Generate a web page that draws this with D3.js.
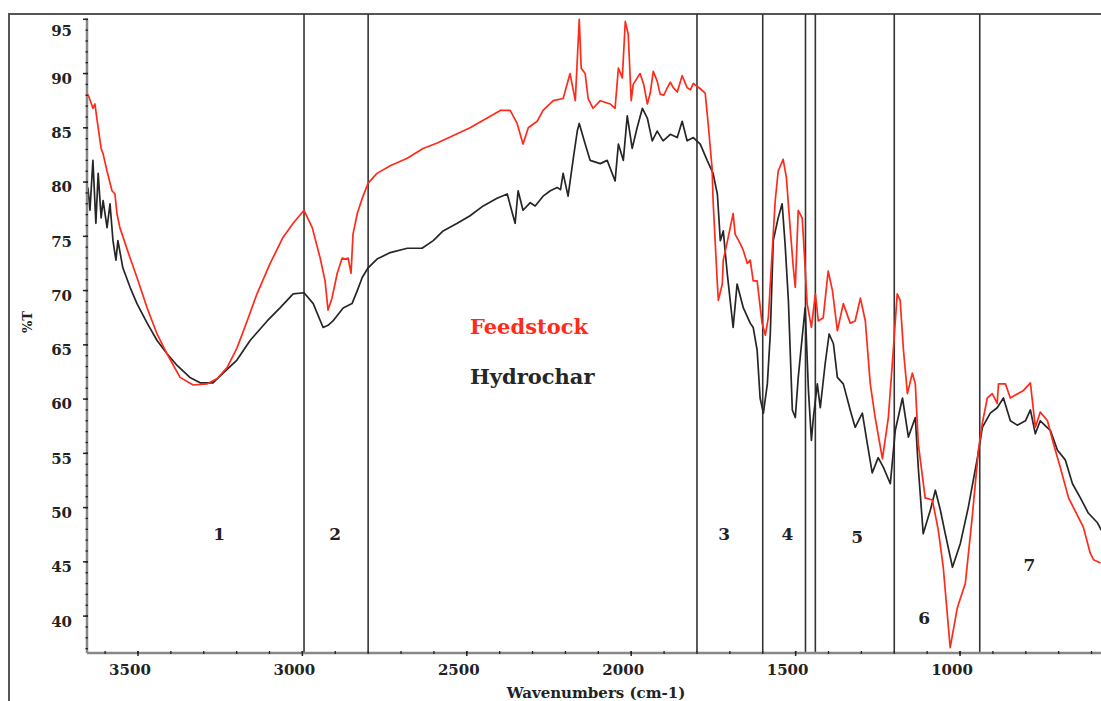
<!DOCTYPE html>
<html>
<head>
<meta charset="utf-8">
<script src="https://cdn.jsdelivr.net/npm/d3@7"></script>
<style>
  body { margin: 0; background: #fff; }
  svg { display: block; }
  text { font-family: "DejaVu Serif", serif; font-weight: bold; fill: #222; }
</style>
</head>
<body>
<div id="chart"><svg></svg></div>
<script>
// wavenumber (cm-1) / %T
const feedWave = [3652, 3637, 3631, 3621, 3612, 3606, 3594, 3579, 3570, 3564, 3555, 3524, 3503, 3472, 3442, 3412, 3372, 3332, 3290, 3259, 3229, 3199, 3168, 3138, 3098, 3059, 3028, 2995,
  2970, 2946, 2931, 2922, 2910, 2894, 2879, 2870, 2861, 2852, 2846, 2833, 2818, 2800, 2773, 2733, 2681, 2633, 2590, 2490, 2398, 2368, 2347, 2329, 2313, 2286, 2268, 2237, 2207,
  2186, 2170, 2158, 2152, 2140, 2131, 2116, 2094, 2064, 2049, 2039, 2027, 2018, 2009, 2000, 1994, 1973, 1962, 1951, 1942, 1933, 1921, 1912, 1901, 1890, 1881, 1872, 1860, 1845, 1830, 1820, 1811, 1790, 1775, 1766, 1754,
  1751, 1738, 1735, 1723, 1720, 1705, 1690, 1684, 1668, 1659, 1647, 1638, 1629, 1617, 1602, 1592, 1583, 1571, 1562, 1553, 1538, 1528, 1519, 1507, 1501, 1492, 1480, 1474, 1465,
  1452, 1440, 1431, 1416, 1401, 1388, 1373, 1355, 1334, 1319, 1303, 1288, 1273, 1258, 1236, 1218, 1203, 1191, 1182, 1172, 1160, 1145, 1136, 1127, 1106, 1084, 1066, 1051, 1030,
  1008, 984, 963, 944, 932, 917, 902, 887, 883, 862, 847, 807, 786, 771, 756, 734, 716, 695, 670, 655, 625, 604, 594, 573]
const feedT = [88.1, 86.8, 87.2, 85.0, 83.1, 82.6, 81.0, 79.2, 78.9, 77.1, 75.8, 73.0, 71.2, 68.4, 66.0, 64.2, 62.0, 61.3, 61.4, 61.9, 62.9, 64.7, 67.2, 69.7, 72.5, 74.9, 76.2, 77.4,
  75.8, 73.0, 70.9, 68.2, 69.3, 71.6, 73.0, 72.9, 73.0, 71.6, 75.2, 77.1, 78.5, 79.9, 80.8, 81.5, 82.2, 83.1, 83.6, 85.0, 86.6, 86.6, 85.4, 83.5, 85.0, 85.6, 86.6, 87.5, 87.7,
  90.0, 87.5, 95.0, 90.5, 90.0, 87.7, 86.8, 87.5, 87.2, 86.8, 90.5, 89.6, 94.8, 93.6, 87.5, 89.0, 90.0, 89.0, 87.2, 88.2, 90.2, 89.3, 88.1, 88.0, 88.7, 89.2, 88.7, 88.3, 89.8, 88.7, 88.5, 89.1, 88.6, 88.2, 85.4, 81.3,
  78.3, 70.6, 69.1, 70.6, 72.8, 74.9, 77.1, 75.2, 74.3, 73.7, 72.5, 72.8, 70.9, 70.9, 67.0, 65.9, 67.5, 73.7, 78.3, 81.0, 82.1, 80.4, 76.7, 72.1, 70.3, 77.4, 76.7, 73.7, 68.8,
  66.6, 69.7, 67.2, 67.5, 71.8, 70.0, 66.3, 68.8, 67.0, 67.2, 69.3, 67.2, 61.4, 58.3, 54.5, 58.3, 64.5, 69.7, 69.1, 64.5, 60.5, 62.4, 61.4, 55.9, 50.9, 50.7, 47.9, 44.5, 37.1,
  40.8, 43.0, 49.1, 55.3, 57.8, 60.1, 60.5, 59.6, 61.4, 61.4, 60.1, 60.8, 61.5, 57.4, 58.8, 58.0, 55.9, 53.7, 50.9, 50.0, 48.2, 45.8, 45.2, 44.9]

const hydroWave = [3652, 3646, 3637, 3628, 3621, 3612, 3606, 3594, 3585, 3576, 3567, 3561, 3546, 3524, 3503, 3472, 3442, 3412, 3381, 3342, 3311, 3272, 3241, 3199, 3159, 3107, 3068, 3028, 2995,
  2967, 2937, 2922, 2907, 2876, 2849, 2833, 2818, 2800, 2773, 2733, 2681, 2636, 2602, 2572, 2529, 2490, 2450, 2408, 2377, 2362, 2353, 2344, 2329, 2307, 2292, 2268, 2246, 2225, 2215, 2207, 2192,
  2176, 2164, 2158, 2140, 2125, 2094, 2073, 2049, 2039, 2024, 2012, 1997, 1982, 1966, 1951, 1936, 1921, 1903, 1881, 1860, 1845, 1830, 1811, 1790, 1769, 1751, 1738, 1729, 1720,
  1708, 1699, 1690, 1678, 1659, 1638, 1629, 1617, 1608, 1598, 1586, 1577, 1568, 1553, 1541, 1532, 1522, 1510, 1501, 1492, 1480, 1471, 1461, 1452, 1446, 1434, 1425, 1410, 1398,
  1385, 1373, 1355, 1334, 1319, 1297, 1282, 1267, 1249, 1233, 1212, 1197, 1175, 1157, 1136, 1127, 1112, 1090, 1075, 1060, 1045, 1023, 999, 975, 947, 932, 908, 887, 868, 847,
  826, 801, 786, 771, 756, 725, 704, 680, 658, 634, 610, 582, 570]
const hydroT = [79.5, 77.4, 82.0, 76.2, 80.8, 76.7, 78.3, 75.8, 78.0, 74.6, 72.8, 74.6, 72.1, 70.3, 68.8, 67.0, 65.4, 64.2, 63.1, 62.0, 61.5, 61.5, 62.4, 63.6, 65.4, 67.2, 68.4, 69.7, 69.8,
  68.8, 66.6, 66.8, 67.2, 68.4, 68.8, 70.0, 71.2, 72.1, 72.9, 73.5, 73.9, 73.9, 74.6, 75.5, 76.2, 76.9, 77.8, 78.5, 78.9, 77.2, 76.2, 79.2, 77.4, 78.1, 77.8, 78.7, 79.2, 79.5, 79.3, 80.8, 78.7,
  82.2, 84.7, 85.4, 83.5, 82.0, 81.7, 82.0, 80.1, 83.5, 82.0, 86.1, 83.1, 85.0, 86.8, 85.9, 83.8, 84.7, 83.8, 84.4, 84.1, 85.6, 83.8, 84.1, 83.5, 82.0, 80.8, 78.9, 74.6, 75.5,
  71.6, 69.1, 66.6, 70.6, 68.4, 67.0, 66.6, 64.5, 60.1, 58.7, 61.4, 66.0, 74.6, 76.7, 78.0, 74.3, 69.1, 59.0, 58.3, 62.0, 65.7, 68.4, 60.8, 56.2, 58.3, 61.4, 59.2, 63.3, 66.0,
  65.1, 62.0, 61.4, 59.0, 57.4, 58.7, 55.9, 53.2, 54.6, 53.7, 52.2, 57.1, 60.1, 56.5, 58.3, 53.7, 47.6, 49.8, 51.6, 49.8, 47.6, 44.5, 46.7, 50.0, 54.6, 57.4, 58.7, 59.2, 60.1, 58.0,
  57.6, 58.0, 59.0, 56.8, 58.0, 57.1, 55.3, 54.4, 52.2, 50.9, 49.5, 48.6, 47.9]

const yTicks = [40, 45, 50, 55, 60, 65, 70, 75, 80, 85, 90, 95]
const xTicks = [3500, 3000, 2500, 2000, 1500, 1000]
const regionLines = [2995, 2800, 1800, 1600, 1470, 1440, 1200, 940]
const regionNames = ['1', '2', '3', '4', '5', '6', '7']
const regionWave = [3253, 2900, 1717, 1525, 1313, 1109, 789]
const regionT = [47.6, 47.6, 47.6, 47.6, 47.3, 39.8, 44.7]
const seriesNames = ['Feedstock', 'Hydrochar']
const seriesColors = ['#ff2a1a', '#262626']

const width = 1101
const height = 701
const plot = { left: 87, top: 19.3, bottom: 653, right: 1108, frameX: 9, frameY: 14 }

const svg = d3.select('#chart').select('svg')
  .attr('width', width)
  .attr('height', height)

const x = d3.scaleLinear().domain([3655, 550]).range([plot.left, plot.right])
const y = d3.scaleLinear().domain([36.6, 95]).range([plot.bottom, plot.top])

// outer frame (runs off the right / bottom edge)
svg.append('rect')
  .attr('x', plot.frameX)
  .attr('y', plot.frameY)
  .attr('width', width + 20)
  .attr('height', height + 20)
  .attr('fill', 'none')
  .attr('stroke', '#555')
  .attr('stroke-width', 2)

// vertical region dividers
svg.append('g').selectAll('line').data(regionLines).enter().append('line')
  .attr('x1', d => x(d))
  .attr('x2', d => x(d))
  .attr('y1', plot.frameY)
  .attr('y2', plot.bottom)
  .attr('stroke', '#333')
  .attr('stroke-width', 1.6)

// clip for spectra
svg.append('clipPath').attr('id', 'plot-clip')
  .append('rect')
  .attr('x', plot.left)
  .attr('y', plot.frameY)
  .attr('width', width - plot.left)
  .attr('height', plot.bottom - plot.frameY)

const line = d3.line().x(d => x(d[0])).y(d => y(d[1]))
const series = [d3.zip(feedWave, feedT), d3.zip(hydroWave, hydroT)]
// hydrochar first so feedstock sits on top where they cross
svg.append('g').attr('clip-path', 'url(#plot-clip)')
  .selectAll('path').data([1, 0]).enter().append('path')
  .attr('d', i => line(series[i]))
  .attr('fill', 'none')
  .attr('stroke', i => seriesColors[i])
  .attr('stroke-width', 1.7)
  .attr('stroke-linejoin', 'round')

// y axis
const yAxisG = svg.append('g').attr('class', 'y-axis')
yAxisG.append('line')
  .attr('x1', plot.left).attr('x2', plot.left)
  .attr('y1', plot.top).attr('y2', plot.bottom)
  .attr('stroke', '#888').attr('stroke-width', 2.5)
yAxisG.selectAll('.minor').data(d3.range(37, 96)).enter().append('line')
  .attr('class', 'minor')
  .attr('x1', plot.left - 1.5).attr('x2', plot.left + 1)
  .attr('y1', d => y(d)).attr('y2', d => y(d))
  .attr('stroke', '#222').attr('stroke-width', 1.3)
yAxisG.selectAll('.major').data(yTicks).enter().append('line')
  .attr('class', 'major')
  .attr('x1', plot.left - 4).attr('x2', plot.left + 1)
  .attr('y1', d => y(d)).attr('y2', d => y(d))
  .attr('stroke', '#222').attr('stroke-width', 1.5)
yAxisG.selectAll('text').data(yTicks).enter().append('text')
  .attr('x', 72)
  .attr('y', d => Math.max(y(d) + 5, 31))
  .attr('dy', '0.36em')
  .attr('text-anchor', 'end')
  .attr('font-size', 15)
  .text(d => d)

// x axis
const xAxisG = svg.append('g').attr('class', 'x-axis')
xAxisG.append('line')
  .attr('x1', plot.left).attr('x2', width)
  .attr('y1', plot.bottom).attr('y2', plot.bottom)
  .attr('stroke', '#888').attr('stroke-width', 2.5)
xAxisG.selectAll('.minor').data(d3.range(600, 3700, 100)).enter().append('line')
  .attr('class', 'minor')
  .attr('x1', d => x(d)).attr('x2', d => x(d))
  .attr('y1', plot.bottom - 2).attr('y2', plot.bottom + 1)
  .attr('stroke', '#222').attr('stroke-width', 1.3)
xAxisG.selectAll('.major').data(xTicks).enter().append('line')
  .attr('class', 'major')
  .attr('x1', d => x(d)).attr('x2', d => x(d))
  .attr('y1', plot.bottom - 2).attr('y2', plot.bottom + 3)
  .attr('stroke', '#222').attr('stroke-width', 1.5)
xAxisG.selectAll('text').data(xTicks).enter().append('text')
  .attr('x', d => x(d) - 8)
  .attr('y', 675)
  .attr('text-anchor', 'middle')
  .attr('font-size', 15)
  .text(d => d)

svg.append('text')
  .attr('x', 596)
  .attr('y', 698)
  .attr('text-anchor', 'middle')
  .attr('font-size', 15)
  .text('Wavenumbers (cm-1)')

svg.append('text')
  .attr('transform', 'translate(27,322) rotate(-90)')
  .attr('dy', '0.35em')
  .attr('text-anchor', 'middle')
  .attr('font-size', 13)
  .text('%T')

// region numbers
svg.append('g').selectAll('text').data(regionNames).enter().append('text')
  .attr('x', (d, i) => x(regionWave[i]))
  .attr('y', (d, i) => y(regionT[i]))
  .attr('dy', '0.35em')
  .attr('text-anchor', 'middle')
  .attr('font-size', 17)
  .text(d => d)

// legend
svg.append('g').selectAll('text').data(seriesNames).enter().append('text')
  .attr('x', 470)
  .attr('y', (d, i) => 334 + i * 50)
  .attr('font-size', 21)
  .style('fill', (d, i) => seriesColors[i])
  .text(d => d)
</script>
</body>
</html>
